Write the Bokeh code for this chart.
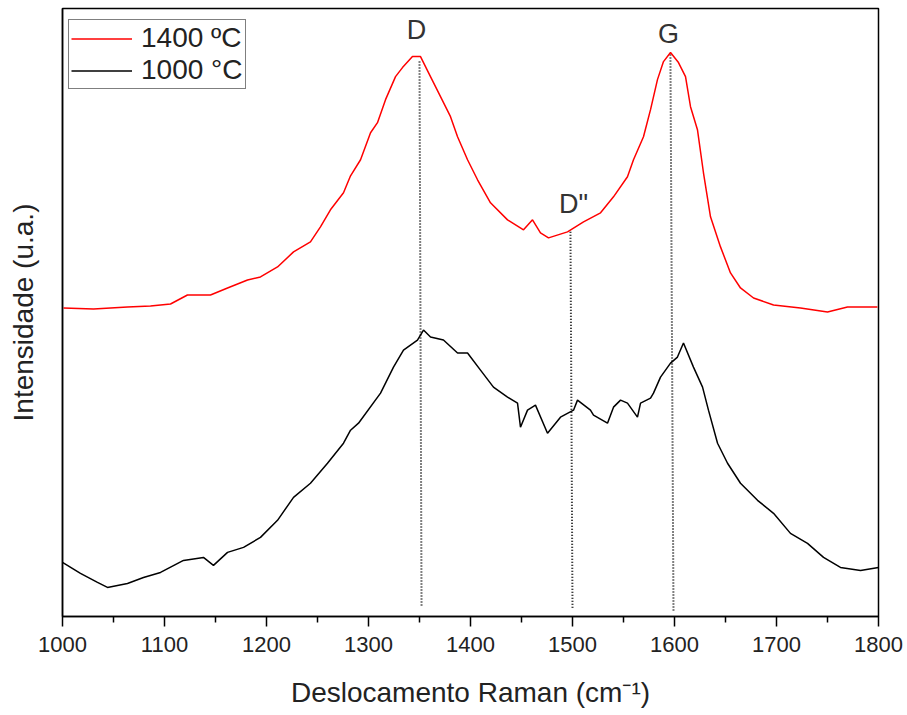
from bokeh.plotting import figure
from bokeh.models import Range1d, Legend, LegendItem, FixedTicker
from bokeh.core.properties import value
from bokeh.embed import file_html
from bokeh.resources import INLINE

# Raman shift (cm-1) and intensity (a.u.)
red_x = [1001.0, 1030.4, 1063.7, 1086.3, 1105.9, 1122.5, 1145.1, 1161.8, 1181.4, 1194.1,
         1210.8, 1226.5, 1243.1, 1252.9, 1262.7, 1275.5, 1282.4, 1292.2, 1302.0, 1308.8,
         1316.7, 1326.5, 1333.3, 1343.1, 1351.0, 1358.8, 1370.6, 1380.4, 1387.3, 1397.1,
         1406.9, 1419.6, 1436.3, 1452.0, 1460.8, 1468.6, 1476.5, 1495.1, 1510.8, 1527.5,
         1540.2, 1553.9, 1559.8, 1569.6, 1576.5, 1583.3, 1589.2, 1596.1, 1603.9, 1610.8,
         1615.7, 1622.5, 1628.4, 1635.3, 1645.1, 1654.9, 1664.7, 1677.5, 1697.1, 1723.5,
         1750.0, 1769.6, 1799.0]
red_y = [308, 307, 309, 310, 312, 321, 321, 328, 336, 339,
         349, 364, 374, 389, 406, 423, 440, 456, 483, 493,
         516, 539, 548, 559, 559, 543, 519, 499, 479, 456,
         436, 413, 396, 386, 396, 383, 378, 384, 394, 403,
         419, 439, 456, 479, 506, 536, 554, 563, 553, 539,
         509, 486, 443, 399, 369, 343, 328, 318, 311, 308,
         304, 309, 309]

blk_x = [1000.0, 1017.6, 1034.3, 1044.1, 1063.7, 1079.4, 1096.1, 1118.6, 1138.2, 1148.0,
         1161.8, 1177.5, 1194.1, 1210.8, 1226.5, 1243.1, 1259.8, 1275.5, 1282.4, 1290.2,
         1311.8, 1324.5, 1334.3, 1348.0, 1353.9, 1360.8, 1373.5, 1387.3, 1397.1, 1409.8,
         1422.5, 1436.3, 1446.1, 1449.0, 1455.9, 1463.7, 1475.5, 1488.2, 1501.0, 1504.9,
         1517.6, 1520.6, 1534.3, 1540.2, 1547.1, 1553.9, 1563.7, 1566.7, 1576.5, 1579.4,
         1586.3, 1596.1, 1602.9, 1608.8, 1618.6, 1627.5, 1633.3, 1642.2,
         1652.0, 1664.7, 1681.4, 1697.1, 1713.7, 1730.4, 1746.1, 1762.7, 1782.4, 1800.0]
blk_y = [54, 43, 34, 29, 33, 39, 44, 56, 59, 51,
         64, 69, 79, 96, 119, 133, 153, 173, 186, 193,
         223, 249, 266, 276, 286, 279, 276, 263, 263, 246,
         229, 219, 213, 189, 206, 211, 183, 199, 206, 216,
         206, 201, 193, 209, 216, 213, 199, 213, 218, 223,
         239, 253, 259, 273, 249, 229, 206, 173,
         153, 133, 116, 103, 83, 73, 59, 49, 46, 49]

series_labels = ["1400 \u00baC", "1000 \u00b0C"]

# band markers
band_names = ["D", "D\"", "G"]
band_x_top = [1350, 1498, 1596]
band_x_bottom = [1352, 1500, 1599]
band_top = [554, 384, 561]
band_bottom = [11, 8, 6]
band_label_x = [1347, 1501, 1594]
band_label_y = [586, 412, 582]

x_ticks = [1000, 1100, 1200, 1300, 1400, 1500, 1600, 1700, 1800]
x_minor = [1050, 1150, 1250, 1350, 1450, 1550, 1650, 1750]
x_title = "Deslocamento Raman (cm\u207b\u00b9)"
y_title = "Intensidade (u.a.)"

FONT = "Liberation Sans"

p = figure(width=907, height=715, output_backend="svg", toolbar_location=None,
           x_range=Range1d(1000, 1800), y_range=Range1d(0, 607),
           min_border_left=62, min_border_right=29, min_border_top=8, min_border_bottom=99)

p.xgrid.visible = False
p.ygrid.visible = False
p.outline_line_color = "black"
p.outline_line_width = 1.5
p.background_fill_color = "white"
p.border_fill_color = "white"

xa = p.xaxis[0]
xa.ticker = FixedTicker(ticks=x_ticks, minor_ticks=x_minor)
xa.axis_line_color = "black"
xa.axis_line_width = 1.5
xa.major_tick_in = 0
xa.major_tick_out = 10
xa.major_tick_line_width = 1.5
xa.minor_tick_in = 0
xa.minor_tick_out = 6
xa.minor_tick_line_width = 1.5
xa.minor_tick_line_color = "black"
xa.major_tick_line_color = "black"
xa.major_label_text_font = FONT
xa.major_label_text_font_size = "22px"
xa.major_label_text_color = "#222222"
xa.major_label_standoff = 10
xa.axis_label = x_title
xa.axis_label_text_font = FONT
xa.axis_label_text_font_size = "28px"
xa.axis_label_text_font_style = "normal"
xa.axis_label_text_color = "#222222"
xa.axis_label_standoff = 22

ya = p.yaxis[0]
ya.ticker = FixedTicker(ticks=[])
ya.axis_line_color = "black"
ya.axis_line_width = 1.5
ya.major_tick_out = 0
ya.major_tick_in = 0
ya.minor_tick_out = 0
ya.minor_tick_in = 0
ya.major_label_standoff = 0
ya.axis_label = y_title
ya.axis_label_text_font = FONT
ya.axis_label_text_font_size = "28px"
ya.axis_label_text_font_style = "normal"
ya.axis_label_text_color = "#222222"
ya.axis_label_standoff = 24

p.segment(x0=band_x_top, y0=band_top, x1=band_x_bottom, y1=band_bottom,
          line_color="black", line_width=2, line_dash="1 2")

r1 = p.line(red_x, red_y, line_color="#ff0000", line_width=1.5)
r2 = p.line(blk_x, blk_y, line_color="#000000", line_width=1.5)

p.text(x=band_label_x, y=band_label_y, text=band_names,
       text_font=value(FONT), text_font_size="27px",
       text_align="center", text_baseline="middle", text_color="#333333")

legend = Legend(items=[LegendItem(label=series_labels[0], renderers=[r1]),
                       LegendItem(label=series_labels[1], renderers=[r2])],
                location=(6, 527))
legend.margin = 0
legend.padding = 2
legend.spacing = 0
legend.border_line_color = "black"
legend.border_line_width = 1.5
legend.background_fill_color = "white"
legend.background_fill_alpha = 1
legend.glyph_width = 61
legend.glyph_height = 29
legend.label_height = 29
legend.label_standoff = 9
legend.label_text_font = FONT
legend.label_text_font_size = "28px"
legend.label_text_color = "#222222"
p.add_layout(legend)

open("out.html", "w").write(file_html(p, INLINE))
